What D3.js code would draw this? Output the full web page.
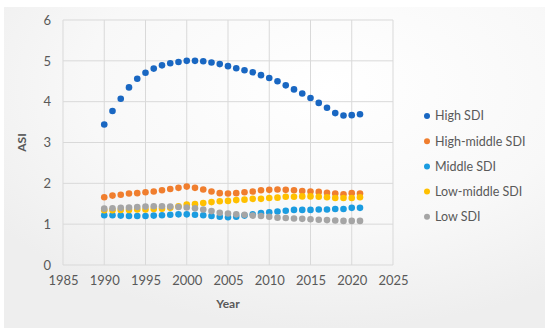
<!DOCTYPE html>
<html lang="en">

<head>
    <meta charset="UTF-8">
    <script src="https://d3js.org/d3.v7.min.js"></script>
    <title>ASI by SDI</title>
    <style>
        body { margin: 0; background: #ffffff; }
        text { font-family: Lato, "Open Sans", sans-serif; }
    </style>
</head>

<body>
    <div id="chart"></div>

    <script>
        // Data
        var years = [1990, 1991, 1992, 1993, 1994, 1995, 1996, 1997, 1998, 1999, 2000,
            2001, 2002, 2003, 2004, 2005, 2006, 2007, 2008, 2009, 2010,
            2011, 2012, 2013, 2014, 2015, 2016, 2017, 2018, 2019, 2020, 2021];

        var highSDI = [3.44, 3.77, 4.07, 4.35, 4.56, 4.71, 4.81, 4.89, 4.94, 4.97, 5.00,
            5.00, 4.99, 4.96, 4.92, 4.87, 4.82, 4.77, 4.72, 4.65, 4.58,
            4.50, 4.40, 4.30, 4.20, 4.09, 3.97, 3.85, 3.72, 3.66, 3.67, 3.69];
        var highMiddleSDI = [1.66, 1.70, 1.72, 1.75, 1.76, 1.78, 1.80, 1.83, 1.86, 1.89, 1.92,
            1.89, 1.85, 1.80, 1.76, 1.75, 1.76, 1.78, 1.80, 1.83, 1.84,
            1.85, 1.84, 1.83, 1.81, 1.80, 1.79, 1.77, 1.75, 1.73, 1.76, 1.75];
        var middleSDI = [1.22, 1.22, 1.21, 1.20, 1.20, 1.20, 1.21, 1.22, 1.23, 1.24, 1.24,
            1.23, 1.22, 1.20, 1.18, 1.17, 1.18, 1.21, 1.24, 1.27, 1.29,
            1.31, 1.33, 1.35, 1.35, 1.35, 1.36, 1.36, 1.37, 1.37, 1.40, 1.40];
        var lowMiddleSDI = [1.34, 1.34, 1.35, 1.35, 1.36, 1.36, 1.37, 1.38, 1.40, 1.44, 1.48,
            1.49, 1.52, 1.54, 1.56, 1.57, 1.59, 1.60, 1.62, 1.62, 1.64,
            1.65, 1.67, 1.67, 1.68, 1.68, 1.67, 1.66, 1.64, 1.64, 1.64, 1.66];
        var lowSDI = [1.38, 1.39, 1.40, 1.41, 1.42, 1.43, 1.44, 1.44, 1.43, 1.42, 1.41,
            1.39, 1.36, 1.32, 1.28, 1.26, 1.24, 1.23, 1.21, 1.20, 1.18,
            1.16, 1.15, 1.14, 1.13, 1.12, 1.11, 1.10, 1.09, 1.08, 1.08, 1.08];

        var seriesNames = ["High SDI", "High-middle SDI", "Middle SDI", "Low-middle SDI", "Low SDI"];
        var seriesColors = ["#1967c2", "#f07e2e", "#1b9ce0", "#ffc000", "#a5a5a5"];
        var xTicks = [1985, 1990, 1995, 2000, 2005, 2010, 2015, 2020, 2025];
        var yTicks = [0, 1, 2, 3, 4, 5, 6];

        var series = [highSDI, highMiddleSDI, middleSDI, lowMiddleSDI, lowSDI];

        var width = 550, height = 336;

        var svg = d3.select("#chart")
            .append("svg")
            .attr("width", width)
            .attr("height", height);

        // soft card background
        var defs = svg.append("defs");
        var grad = defs.append("radialGradient")
            .attr("id", "bg")
            .attr("cx", "60%").attr("cy", "25%").attr("r", "75%");
        grad.append("stop").attr("offset", "0%").attr("stop-color", "#ffffff");
        grad.append("stop").attr("offset", "60%").attr("stop-color", "#f8f8f8");
        grad.append("stop").attr("offset", "100%").attr("stop-color", "#eeeeee");

        svg.append("rect")
            .attr("x", 4).attr("y", 7)
            .attr("width", 541).attr("height", 321)
            .attr("fill", "url(#bg)");

        // Escalas
        var x = d3.scaleLinear().domain([1985, 2025]).range([63, 393]);
        var y = d3.scaleLinear().domain([0, 6]).range([265, 20]);

        // grid
        svg.append("g")
            .selectAll("line")
            .data(xTicks)
            .enter()
            .append("line")
            .attr("x1", function (d) { return x(d); })
            .attr("x2", function (d) { return x(d); })
            .attr("y1", y(0))
            .attr("y2", y(6))
            .attr("stroke", "#d9d9d9");

        svg.append("g")
            .selectAll("line")
            .data(yTicks)
            .enter()
            .append("line")
            .attr("x1", x(1985))
            .attr("x2", x(2025))
            .attr("y1", function (d) { return y(d); })
            .attr("y2", function (d) { return y(d); })
            .attr("stroke", "#d9d9d9");

        // Eixos (labels only)
        var xAxis = d3.axisBottom(x).tickValues(xTicks).tickFormat(d3.format("d")).tickSize(0).tickPadding(11);
        var yAxis = d3.axisLeft(y).tickValues(yTicks).tickFormat(d3.format("d")).tickSize(0).tickPadding(12);

        svg.append("g")
            .attr("transform", "translate(0," + y(0) + ")")
            .call(xAxis)
            .call(function (g) { g.select(".domain").remove(); })
            .selectAll("text")
            .attr("fill", "#595959")
            .style("font-size", "13px");

        svg.append("g")
            .attr("transform", "translate(" + x(1985) + ",0)")
            .call(yAxis)
            .call(function (g) { g.select(".domain").remove(); })
            .selectAll("text")
            .attr("fill", "#595959")
            .style("font-size", "13px");

        // titulos
        svg.append("text")
            .attr("x", (x(1985) + x(2025)) / 2)
            .attr("y", 308)
            .attr("text-anchor", "middle")
            .attr("fill", "#595959")
            .style("font-size", "12px")
            .style("font-weight", "bold")
            .text("Year");

        svg.append("text")
            .attr("transform", "translate(26," + (y(3)) + ") rotate(-90)")
            .attr("text-anchor", "middle")
            .attr("fill", "#595959")
            .style("font-size", "12px")
            .style("font-weight", "bold")
            .text("ASI");

        // pontos
        series.forEach(function (vals, s) {
            svg.append("g")
                .selectAll("circle")
                .data(vals)
                .enter()
                .append("circle")
                .attr("cx", function (d, i) { return x(years[i]); })
                .attr("cy", function (d) { return y(d); })
                .attr("r", 3.3)
                .attr("fill", seriesColors[s]);
        });

        // legenda
        var legend = svg.append("g")
            .selectAll("g")
            .data(seriesNames)
            .enter()
            .append("g")
            .attr("transform", function (d, i) { return "translate(427," + (116 + i * 25.2) + ")"; });

        legend.append("circle")
            .attr("r", 3)
            .attr("fill", function (d, i) { return seriesColors[i]; });

        legend.append("text")
            .attr("x", 8)
            .attr("dy", "0.35em")
            .attr("fill", "#595959")
            .style("font-size", "12.5px")
            .text(function (d) { return d; });
    </script>

</body>

</html>
